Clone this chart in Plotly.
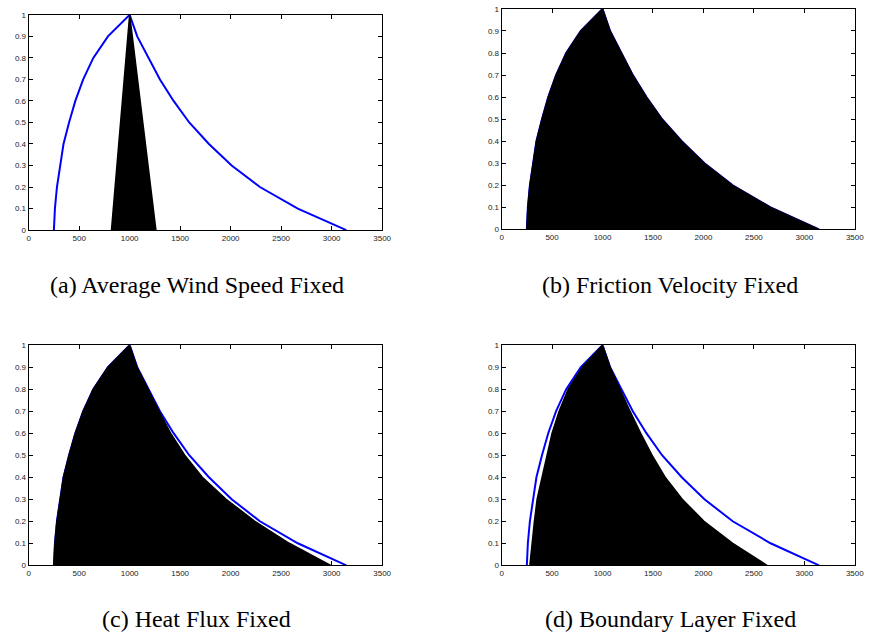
import plotly.graph_objects as go

# Blue reference membership curve (same in all panels)
blue_x = [250, 260, 280, 310, 345, 400, 462, 540, 640, 785, 1000,
          1075, 1190, 1300, 1435, 1590, 1785, 2010, 2290, 2665, 3145]
blue_y = [0, 0.1, 0.2, 0.3, 0.4, 0.5, 0.6, 0.7, 0.8, 0.9, 1.0,
          0.9, 0.8, 0.7, 0.6, 0.5, 0.4, 0.3, 0.2, 0.1, 0]

# Black filled shapes
a_x = [820, 1000, 1260]
a_y = [0, 1, 0]

b_x = blue_x
b_y = blue_y

c_x = [250, 260, 280, 310, 345, 400, 462, 540, 640, 785, 1000,
       1072, 1180, 1290, 1405, 1545, 1720, 1955, 2240, 2580, 2990]
c_y = blue_y

d_x = [280, 300, 325, 352, 400, 450, 500, 570, 660, 800, 1000,
       1075, 1172, 1272, 1377, 1490, 1620, 1790, 2005, 2290, 2630]
d_y = blue_y

captions = ["(a) Average Wind Speed Fixed", "(b) Friction Velocity Fixed",
            "(c) Heat Flux Fixed", "(d) Boundary Layer Fixed"]

x_ticks = [0, 500, 1000, 1500, 2000, 2500, 3000, 3500]
y_ticks = [0, 0.1, 0.2, 0.3, 0.4, 0.5, 0.6, 0.7, 0.8, 0.9, 1]
y_tick_labels = ["0", "0.1", "0.2", "0.3", "0.4", "0.5", "0.6", "0.7", "0.8", "0.9", "1"]

W, H = 872, 640
panels = [
    # (x0px, x1px, ytop px, ybottom px)
    (27, 385, 11, 229.3),
    (506, 863.7, 5, 228.7),
    (27, 385, 346, 569.3),
    (506, 863.7, 346, 569.3),
]
fills = [(a_x, a_y), (b_x, b_y), (c_x, c_y), (d_x, d_y)]
cap_pos = [(197, 285), (677, 285), (197, 624), (677, 624)]

fig = go.Figure()
layout = {}
for i, ((x0, x1, yt, yb), (fx, fy)) in enumerate(zip(panels, fills)):
    n = "" if i == 0 else str(i + 1)
    xa, ya = "x" + n, "y" + n
    fig.add_trace(go.Scatter(x=blue_x, y=blue_y, mode="lines",
                             line=dict(color="#0000ff", width=2),
                             xaxis=xa, yaxis=ya, showlegend=False,
                             hoverinfo="skip"))
    fig.add_trace(go.Scatter(x=fx, y=fy, mode="lines", fill="toself",
                             fillcolor="black",
                             line=dict(color="black", width=1.5),
                             xaxis=xa, yaxis=ya, showlegend=False,
                             hoverinfo="skip"))
    common = dict(showline=True, linecolor="black", linewidth=1,
                  mirror="ticks", ticks="inside", ticklen=4,
                  tickcolor="black", showgrid=False, zeroline=False,
                  tickfont=dict(family="Liberation Sans, Arial", size=8,
                                color="#222222"))
    layout["xaxis" + n] = dict(domain=[x0 / W, x1 / W], range=[0, 3500],
                               tickvals=x_ticks, anchor=ya, **common)
    layout["yaxis" + n] = dict(domain=[1 - yb / H, 1 - yt / H], range=[0, 1],
                               tickvals=y_ticks, ticktext=y_tick_labels,
                               anchor=xa, **common)

annotations = []
for (cx, cy), text in zip(cap_pos, captions):
    annotations.append(dict(x=cx / W, y=1 - cy / H, xref="paper", yref="paper",
                            text=text, showarrow=False, xanchor="center",
                            yanchor="middle",
                            font=dict(family="Liberation Serif, DejaVu Serif",
                                      size=24, color="black")))

fig.update_layout(width=W, height=H, margin=dict(l=0, r=0, t=0, b=0),
                  plot_bgcolor="white", paper_bgcolor="white",
                  annotations=annotations, **layout)

fig.write_html("out.html",
               config={"displayModeBar": False},
               post_script="document.body.style.margin='0';"
                           "document.body.style.overflow='hidden';")
